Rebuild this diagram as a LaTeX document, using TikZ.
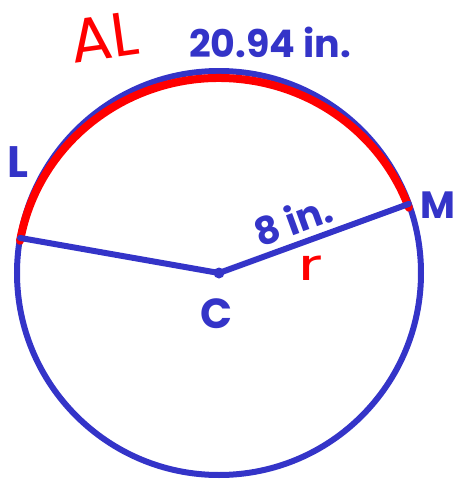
\documentclass[tikz,border=0pt]{standalone}
\usepackage{fontspec}
\setmainfont{Poppins}
\usetikzlibrary{calc}
\definecolor{cblue}{RGB}{52,52,200}
\definecolor{cred}{RGB}{255,0,0}
\begin{document}
\begin{tikzpicture}[x=1pt,y=-1pt,
  bluestroke/.style={draw=cblue,line width=6pt},
  redstroke/.style={draw=cred,line width=8pt,line cap=round},
  lbl/.style={text=cblue,font=\bfseries\fontsize{38}{38}\selectfont,inner sep=0pt},
  hand/.style={text=cred,font=\fontsize{62}{62}\selectfont,inner sep=0pt}]
\useasboundingbox (0,0) rectangle (457,480);
\coordinate (C) at (219,273);
\coordinate (L) at ($(C)+(-170:202)$);
\coordinate (M) at ($(C)+(-20:202)$);
\draw[bluestroke] (C) circle[radius=202];
\draw[redstroke] ($(C)+(0,2)+(-170:202 and 197)$) arc[start angle=-170,end angle=-20,x radius=202,y radius=197];
\draw[bluestroke,line cap=round] (L) -- (C) -- (M);
\fill[cblue] (C) circle[radius=5.5];
\node[lbl,font=\bfseries\fontsize{42}{42}\selectfont] (lC) at (217,314) {C};
\node[lbl,font=\bfseries\fontsize{44}{44}\selectfont] (lL) at (18,162) {L};
\node[lbl,font=\bfseries\fontsize{38}{38}\selectfont] (lM) at (438,205) {M};
\node[lbl] (arc) at (270,42) {20.94 in.};
\node[lbl,rotate=20] (rad) at (293,220) {8 in.};
\node[hand,rotate=8] (al) at (104,37) {AL};
\node[hand,font=\fontsize{44}{44}\selectfont,xscale=1.5] (r) at (311,268) {r};
\end{tikzpicture}
\end{document}
